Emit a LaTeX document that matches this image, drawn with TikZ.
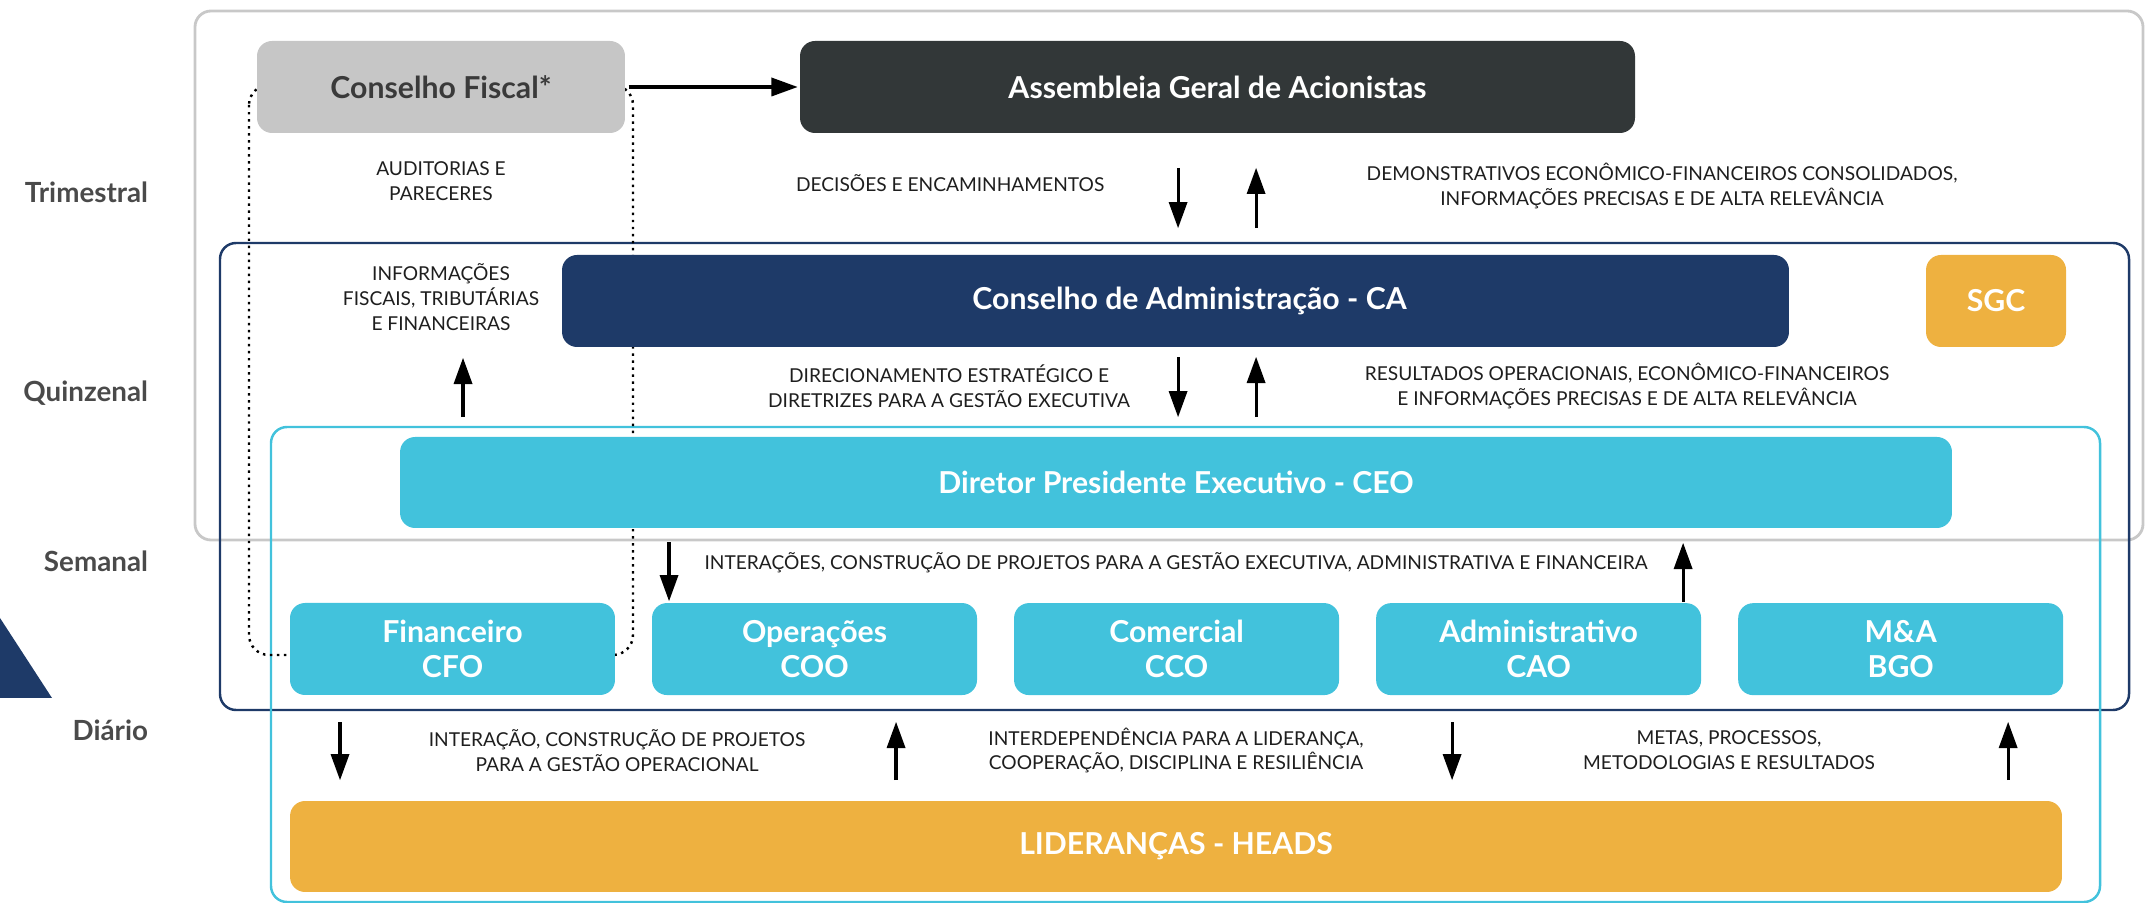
\documentclass[tikz,border=0pt]{standalone}
\usepackage{fontspec}
\setmainfont{Lato}
\usetikzlibrary{positioning}
\definecolor{canavy}{HTML}{1E3A68}
\definecolor{ceocyan}{HTML}{42C2DC}
\definecolor{agadark}{HTML}{323738}
\definecolor{cfgrey}{HTML}{C6C6C6}
\definecolor{cftext}{HTML}{3A3A3A}
\definecolor{headsgold}{HTML}{EEB140}
\definecolor{framegrey}{HTML}{C8C8C8}
\definecolor{periodgrey}{HTML}{4A4A4A}
\definecolor{notegrey}{HTML}{1E1E1E}
\begin{document}
\begin{tikzpicture}[scale=0.1]
  \tikzstyle{every node}+=[inner sep=0pt, outer sep=0pt]
  \tikzstyle{orgbox}=[rounded corners=1.5mm, minimum height=9.2mm, align=center, text=white, font=\fontsize{8.6}{10}\selectfont\bfseries]
  \tikzstyle{deptbox}=[orgbox, fill=ceocyan, minimum width=32.5mm]
  \tikzstyle{notetext}=[align=center, text=notegrey, font=\fontsize{5.45}{7.1}\selectfont]
  \tikzstyle{periodlabel}=[anchor=east, text=periodgrey, font=\fontsize{7.9}{9}\selectfont\bfseries]
  \tikzstyle{flowline}=[black, line width=0.9pt, shorten >=2mm]
  \useasboundingbox (0,0) rectangle (214.6,-90.3);
  % frames
  \draw [framegrey, line width=0.8pt, rounded corners=1.6mm] (19.5,-1.1) rectangle (214.3,-54.0);
  \draw [canavy, line width=0.7pt, rounded corners=1.6mm] (22.0,-24.3) rectangle (212.9,-71.0);
  \draw [ceocyan, line width=0.7pt, rounded corners=1.6mm] (27.1,-42.7) rectangle (210.0,-90.2);
  \draw [black, line width=0.7pt, dash pattern=on 0.7pt off 1.3pt, rounded corners=2mm] (24.9,-8.5) rectangle (63.3,-65.5);
  \fill [canavy] (0,-61.8) -- (5.2,-69.8) -- (0,-69.8) -- cycle;
  % periods
  \node [periodlabel] (tri) at (14.8,-19.2) {Trimestral};
  \node [periodlabel] (qui) at (14.8,-39.3) {Quinzenal};
  \node [periodlabel] (sem) at (14.8,-56.1) {Semanal};
  \node [periodlabel] (dia) at (14.8,-73.0) {Diário};
  % boxes
  \node [orgbox, fill=cfgrey, text=cftext, minimum width=36.8mm] (cf) at (44.1,-8.7) {Conselho Fiscal*};
  \node [orgbox, fill=agadark, minimum width=83.5mm] (aga) at (121.75,-8.7) {Assembleia Geral de Acionistas};
  \node [orgbox, fill=canavy, minimum width=122.7mm] (ca) at (117.55,-30.1) {\hspace*{2.8mm}Conselho de Administração - CA};
  \node [orgbox, fill=headsgold, minimum width=14mm] (sgc) at (199.6,-30.1) {SGC};
  \node [orgbox, fill=ceocyan, minimum width=155.2mm, minimum height=9.1mm] (ceo) at (117.6,-48.25) {Diretor Presidente Executivo - CEO};
  \node [deptbox] (cfo) at (45.25,-64.9) {Financeiro\\CFO};
  \node [deptbox, right=3.7mm of cfo] (coo) {Operações\\COO};
  \node [deptbox, right=3.7mm of coo] (cco) {Comercial\\CCO};
  \node [deptbox, right=3.7mm of cco] (cao) {Administrativo\\CAO};
  \node [deptbox, right=3.7mm of cao] (bgo) {M\&A\\BGO};
  \node [orgbox, fill=headsgold, minimum width=177.2mm, minimum height=9.1mm] (heads) at (117.6,-84.65) {LIDERANÇAS - HEADS};
  % notes
  \node [notetext] (audit) at (44.1,-18.1) {AUDITORIAS E\\PARECERES};
  \node [notetext] (fiscinfo) at (44.1,-29.7) {INFORMAÇÕES\\FISCAIS, TRIBUTÁRIAS\\E FINANCEIRAS};
  \node [notetext, anchor=west] (decis) at (79.6,-18.3) {DECISÕES E ENCAMINHAMENTOS};
  \node [notetext] (demonst) at (166.2,-18.6) {DEMONSTRATIVOS ECONÔMICO-FINANCEIROS CONSOLIDADOS,\\INFORMAÇÕES PRECISAS E DE ALTA RELEVÂNCIA};
  \node [notetext] (direc) at (94.9,-38.6) {DIRECIONAMENTO ESTRATÉGICO E\\DIRETRIZES PARA A GESTÃO EXECUTIVA};
  \node [notetext] (result) at (162.7,-38.6) {RESULTADOS OPERACIONAIS, ECONÔMICO-FINANCEIROS\\E INFORMAÇÕES PRECISAS E DE ALTA RELEVÂNCIA};
  \node [notetext] (interac) at (117.6,-56.3) {INTERAÇÕES, CONSTRUÇÃO DE PROJETOS PARA A GESTÃO EXECUTIVA, ADMINISTRATIVA E FINANCEIRA};
  \node [notetext] (opnote) at (61.7,-75.05) {INTERAÇÃO, CONSTRUÇÃO DE PROJETOS\\PARA A GESTÃO OPERACIONAL};
  \node [notetext] (leadnote) at (117.6,-75.05) {INTERDEPENDÊNCIA PARA A LIDERANÇA,\\COOPERAÇÃO, DISCIPLINA E RESILIÊNCIA};
  \node [notetext] (goalnote) at (172.9,-75.05) {METAS, PROCESSOS,\\METODOLOGIAS E RESULTADOS};
  % arrows
  \draw [flowline] ([xshift=3.6mm]cf.east) -- ([xshift=-2.6mm]aga.west);
  \fill ([xshift=-2.6mm]aga.west) -- ++(-2.6,0.95) -- ++(0,-1.9) -- cycle;
  \coordinate (agadn) at (117.8,-16.8);
  \coordinate (agadnt) at (117.8,-22.8);
  \draw [flowline] (agadn) -- (agadnt);
  \fill (agadnt) -- ++(-0.95,2.6) -- ++(1.9,0) -- cycle;
  \coordinate (agaup) at (125.6,-22.8);
  \coordinate (agaupt) at (125.6,-16.8);
  \draw [flowline] (agaup) -- (agaupt);
  \fill (agaupt) -- ++(-0.95,-2.6) -- ++(1.9,0) -- cycle;
  \coordinate (cadn) at (117.8,-35.7);
  \coordinate (cadnt) at (117.8,-41.7);
  \draw [flowline] (cadn) -- (cadnt);
  \fill (cadnt) -- ++(-0.95,2.6) -- ++(1.9,0) -- cycle;
  \coordinate (caup) at (125.6,-41.7);
  \coordinate (caupt) at (125.6,-35.7);
  \draw [flowline] (caup) -- (caupt);
  \fill (caupt) -- ++(-0.95,-2.6) -- ++(1.9,0) -- cycle;
  \coordinate (fiscup) at (46.3,-41.7);
  \coordinate (fiscupt) at (46.3,-35.8);
  \draw [flowline] (fiscup) -- (fiscupt);
  \fill (fiscupt) -- ++(-0.95,-2.6) -- ++(1.9,0) -- cycle;
  \coordinate (ceodn) at (66.9,-54.2);
  \coordinate (ceodnt) at (66.9,-60.1);
  \draw [flowline] (ceodn) -- (ceodnt);
  \fill (ceodnt) -- ++(-0.95,2.6) -- ++(1.9,0) -- cycle;
  \coordinate (ceoup) at (168.3,-60.2);
  \coordinate (ceoupt) at (168.3,-54.3);
  \draw [flowline] (ceoup) -- (ceoupt);
  \fill (ceoupt) -- ++(-0.95,-2.6) -- ++(1.9,0) -- cycle;
  \coordinate (hddnA) at (34.0,-72.2);
  \coordinate (hddnAt) at (34.0,-78.0);
  \draw [flowline] (hddnA) -- (hddnAt);
  \fill (hddnAt) -- ++(-0.95,2.6) -- ++(1.9,0) -- cycle;
  \coordinate (hdupA) at (89.6,-78.0);
  \coordinate (hdupAt) at (89.6,-72.2);
  \draw [flowline] (hdupA) -- (hdupAt);
  \fill (hdupAt) -- ++(-0.95,-2.6) -- ++(1.9,0) -- cycle;
  \coordinate (hddnB) at (145.2,-72.2);
  \coordinate (hddnBt) at (145.2,-78.0);
  \draw [flowline] (hddnB) -- (hddnBt);
  \fill (hddnBt) -- ++(-0.95,2.6) -- ++(1.9,0) -- cycle;
  \coordinate (hdupB) at (200.8,-78.0);
  \coordinate (hdupBt) at (200.8,-72.2);
  \draw [flowline] (hdupB) -- (hdupBt);
  \fill (hdupBt) -- ++(-0.95,-2.6) -- ++(1.9,0) -- cycle;
\end{tikzpicture}
\end{document}
